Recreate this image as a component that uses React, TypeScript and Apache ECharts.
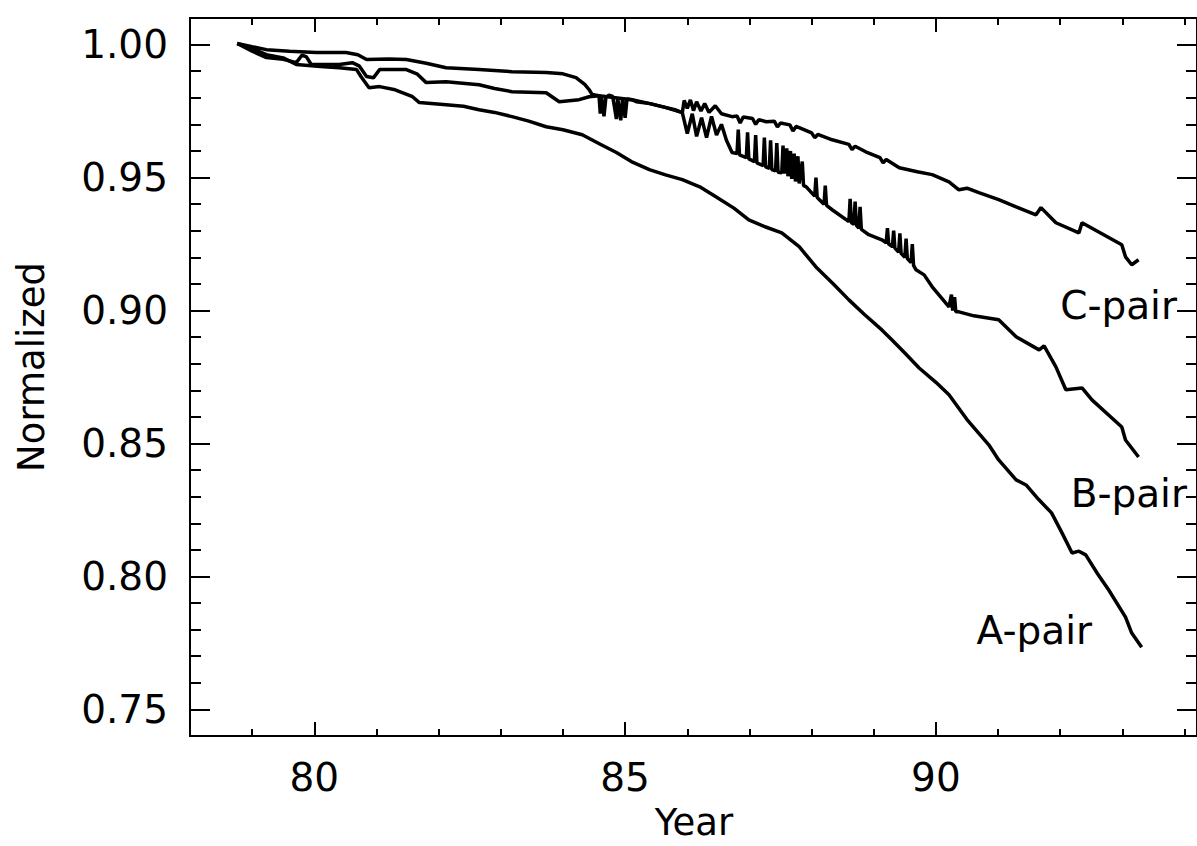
import React, { useEffect, useRef } from "react";
import * as echarts from "echarts";

const xMin = 78;
const xMax = 94.2;
const yMin = 0.74;
const yMax = 1.01;

const xMajorTicks = [80, 85, 90];
const xMinorTicks = [79, 81, 82, 83, 84, 86, 87, 88, 89, 91, 92, 93, 94];
const yMajorTicks = [0.75, 0.8, 0.85, 0.9, 0.95, 1.0];
const yMinorTicks = [
  0.76, 0.77, 0.78, 0.79, 0.81, 0.82, 0.83, 0.84, 0.86, 0.87, 0.88, 0.89,
  0.91, 0.92, 0.93, 0.94, 0.96, 0.97, 0.98, 0.99,
];

const xTitle = "Year";
const yTitle = "Normalized";
const seriesNames = ["A-pair", "B-pair", "C-pair"];

const aPair: [number, number][] = [
  [78.76, 1.0004], [79.0, 0.9985], [79.23, 0.9962], [79.5, 0.995], [79.71, 0.9925],
  [80.1, 0.9918], [80.4, 0.9913], [80.68, 0.9906], [80.75, 0.988], [80.88, 0.9838],
  [81.05, 0.9842], [81.3, 0.983], [81.58, 0.9804], [81.69, 0.9782], [82.12, 0.9774],
  [82.4, 0.9768], [82.65, 0.9755], [82.9, 0.9745], [83.18, 0.9729], [83.45, 0.9712],
  [83.73, 0.9691], [84.0, 0.968], [84.31, 0.9661], [84.6, 0.9625], [84.86, 0.9594],
  [85.1, 0.956], [85.39, 0.953], [85.65, 0.951], [85.92, 0.9492], [86.2, 0.9465],
  [86.46, 0.9428], [86.75, 0.9385], [86.99, 0.9341], [87.25, 0.9315], [87.52, 0.9292],
  [87.8, 0.924], [88.07, 0.9164], [88.35, 0.91], [88.6, 0.904], [88.85, 0.8985],
  [89.13, 0.8927], [89.29, 0.889], [89.5, 0.884], [89.73, 0.8784], [90.0, 0.873],
  [90.21, 0.8683], [90.5, 0.859], [90.85, 0.8495], [91.01, 0.8438], [91.29, 0.8363],
  [91.45, 0.8344], [91.65, 0.829], [91.86, 0.8239], [92.03, 0.8163], [92.19, 0.8088],
  [92.3, 0.8095], [92.41, 0.8081], [92.6, 0.801], [92.78, 0.7949], [93.05, 0.7847],
  [93.15, 0.7787], [93.31, 0.7734],
];

const bPair: [number, number][] = [
  [78.76, 1.0004], [79.0, 0.9975], [79.23, 0.9951], [79.5, 0.9945], [79.71, 0.9932],
  [79.8, 0.996], [79.87, 0.9955], [79.95, 0.9925], [80.4, 0.9925], [80.61, 0.9932],
  [80.72, 0.992], [80.84, 0.988], [80.95, 0.9875], [81.05, 0.9906], [81.48, 0.9906],
  [81.65, 0.989], [81.8, 0.9857], [82.12, 0.986], [82.65, 0.9849], [82.9, 0.9835],
  [83.18, 0.9823], [83.73, 0.9819], [83.94, 0.9785], [84.26, 0.9793], [84.42, 0.9804],
  [84.58, 0.9808], [85.11, 0.9793], [85.4, 0.9778], [85.66, 0.9763], [85.92, 0.9744],
  [86.0, 0.9665], [86.08, 0.974], [86.15, 0.9655], [86.23, 0.9725], [86.31, 0.965],
  [86.39, 0.973], [86.47, 0.966], [86.55, 0.97], [86.63, 0.964], [86.72, 0.9594],
  [86.8, 0.959], [86.82, 0.968], [86.84, 0.9585], [86.95, 0.9575], [86.97, 0.967],
  [86.99, 0.957], [87.08, 0.956], [87.1, 0.966], [87.12, 0.9555], [87.22, 0.9545],
  [87.24, 0.965], [87.26, 0.954], [87.32, 0.9535], [87.34, 0.964], [87.36, 0.953],
  [87.42, 0.9525], [87.44, 0.963], [87.46, 0.952], [87.52, 0.9518], [87.54, 0.962],
  [87.56, 0.9515], [87.6, 0.961], [87.62, 0.9505], [87.66, 0.96], [87.68, 0.9495],
  [87.72, 0.959], [87.74, 0.9485], [87.78, 0.958], [87.8, 0.9478], [87.85, 0.956],
  [87.87, 0.947], [87.91, 0.9466], [88.05, 0.943], [88.07, 0.95], [88.09, 0.9425],
  [88.2, 0.94], [88.22, 0.947], [88.24, 0.9395], [88.33, 0.9379], [88.6, 0.9334],
  [88.62, 0.942], [88.64, 0.933], [88.68, 0.9325], [88.7, 0.941], [88.72, 0.932],
  [88.76, 0.931], [88.78, 0.939], [88.8, 0.9305], [88.92, 0.9285], [89.13, 0.9266],
  [89.2, 0.9255], [89.22, 0.931], [89.24, 0.925], [89.3, 0.924], [89.32, 0.93],
  [89.34, 0.9235], [89.4, 0.922], [89.42, 0.929], [89.44, 0.9215], [89.5, 0.92],
  [89.52, 0.927], [89.54, 0.9195], [89.6, 0.918], [89.62, 0.925], [89.64, 0.917],
  [89.68, 0.9153], [89.81, 0.9134], [89.94, 0.9089], [90.21, 0.9014], [90.25, 0.906],
  [90.27, 0.9], [90.3, 0.905], [90.32, 0.8995], [90.37, 0.8995], [90.61, 0.898],
  [91.01, 0.8965], [91.29, 0.8901], [91.66, 0.8852], [91.74, 0.8867], [91.93, 0.8788],
  [92.09, 0.8702], [92.35, 0.8709], [92.51, 0.8664], [92.99, 0.8562], [93.05, 0.8513],
  [93.26, 0.8449],
];

const cPair: [number, number][] = [
  [78.76, 1.0004], [79.0, 0.9992], [79.23, 0.9981], [79.6, 0.9975], [80.03, 0.997],
  [80.51, 0.997], [80.7, 0.9962], [80.84, 0.9944], [81.2, 0.9946], [81.48, 0.9944],
  [81.8, 0.993], [82.12, 0.9913], [82.65, 0.9906], [83.18, 0.9898], [83.73, 0.9895],
  [84.0, 0.989], [84.21, 0.9876], [84.35, 0.985], [84.42, 0.9831], [84.47, 0.9812],
  [84.58, 0.9808], [84.6, 0.974], [84.62, 0.9805], [84.66, 0.973], [84.69, 0.98],
  [84.74, 0.981], [84.8, 0.9805], [84.86, 0.972], [84.88, 0.98], [84.93, 0.9715],
  [84.96, 0.98], [85.0, 0.9725], [85.03, 0.9795], [85.11, 0.9793], [85.18, 0.9785],
  [85.4, 0.9778], [85.66, 0.9763], [85.8, 0.9755], [85.92, 0.9744], [85.95, 0.979],
  [86.0, 0.976], [86.05, 0.9792], [86.1, 0.9752], [86.15, 0.9785], [86.22, 0.975],
  [86.28, 0.9778], [86.35, 0.9745], [86.45, 0.977], [86.55, 0.974], [86.72, 0.9729],
  [86.8, 0.9732], [86.85, 0.9705], [86.9, 0.9728], [87.05, 0.9722], [87.1, 0.97],
  [87.15, 0.9718], [87.27, 0.971], [87.4, 0.9712], [87.45, 0.969], [87.5, 0.9705],
  [87.65, 0.9698], [87.7, 0.9675], [87.75, 0.9692], [87.8, 0.9688], [88.0, 0.9668],
  [88.05, 0.965], [88.1, 0.9662], [88.33, 0.9642], [88.6, 0.9625], [88.65, 0.9605],
  [88.7, 0.9618], [88.87, 0.9597], [89.1, 0.9575], [89.15, 0.9555], [89.2, 0.9568],
  [89.41, 0.9537], [89.7, 0.9522], [89.94, 0.9511], [90.21, 0.9484], [90.37, 0.9454],
  [90.5, 0.946], [90.69, 0.9443], [91.01, 0.9417], [91.29, 0.939], [91.61, 0.936],
  [91.69, 0.9387], [91.93, 0.933], [92.3, 0.9292], [92.35, 0.933], [92.99, 0.9247],
  [93.05, 0.9202], [93.15, 0.9172], [93.26, 0.9191],
];

const FONT = "DejaVu Sans";
const BLACK = "#000";

function makeX(position: string, ticks: number[], len: number, withLabels: boolean) {
  return {
    type: "value",
    min: xMin,
    max: xMax,
    position,
    axisLine: { show: true, onZero: false, lineStyle: { color: BLACK, width: 2 } },
    axisTick: { show: true, inside: true, length: len, customValues: ticks, lineStyle: { color: BLACK, width: 2 } },
    axisLabel: withLabels
      ? {
          show: true,
          customValues: xMajorTicks,
          formatter: (v: number) => String(Math.round(v)),
          color: BLACK,
          fontFamily: FONT,
          fontSize: 39,
          margin: 22,
        }
      : { show: false },
    splitLine: { show: false },
  };
}

function makeY(position: string, ticks: number[], len: number, withLabels: boolean) {
  return {
    type: "value",
    min: yMin,
    max: yMax,
    position,
    axisLine: { show: true, onZero: false, lineStyle: { color: BLACK, width: 2 } },
    axisTick: { show: true, inside: true, length: len, customValues: ticks, lineStyle: { color: BLACK, width: 2 } },
    axisLabel: withLabels
      ? {
          show: true,
          customValues: yMajorTicks,
          formatter: (v: number) => v.toFixed(2),
          color: BLACK,
          fontFamily: FONT,
          fontSize: 39,
          margin: 22,
        }
      : { show: false },
    splitLine: { show: false },
  };
}

export default function App() {
  const ref = useRef<HTMLDivElement>(null);
  useEffect(() => {
    if (!ref.current) return;
    const chart = echarts.init(ref.current, undefined, { renderer: "svg" });
    const lineStyle = { color: BLACK, width: 3.5 };
    chart.setOption({
      animation: false,
      backgroundColor: "#fff",
      grid: { left: 190, top: 18, width: 1008, height: 718 },
      xAxis: [
        makeX("bottom", xMajorTicks, 14, true),
        makeX("bottom", xMinorTicks, 7, false),
        makeX("top", xMajorTicks, 14, false),
        makeX("top", xMinorTicks, 7, false),
      ],
      yAxis: [
        makeY("left", yMajorTicks, 20, true),
        makeY("left", yMinorTicks, 11, false),
        makeY("right", yMajorTicks, 20, false),
        makeY("right", yMinorTicks, 11, false),
      ],
      series: [
        { name: seriesNames[0], type: "line", data: aPair, showSymbol: false, lineStyle },
        { name: seriesNames[1], type: "line", data: bPair, showSymbol: false, lineStyle },
        { name: seriesNames[2], type: "line", data: cPair, showSymbol: false, lineStyle },
      ],
      graphic: [
        {
          type: "text",
          x: 694,
          y: 822,
          style: { text: xTitle, fill: BLACK, font: `37px "${FONT}"`, align: "center", verticalAlign: "middle" },
        },
        {
          type: "text",
          x: 31,
          y: 367,
          rotation: Math.PI / 2,
          style: { text: yTitle, fill: BLACK, font: `37px "${FONT}"`, align: "center", verticalAlign: "middle" },
        },
        {
          type: "text",
          x: 1177,
          y: 305,
          style: { text: seriesNames[2], fill: BLACK, font: `39px "${FONT}"`, align: "right", verticalAlign: "middle", backgroundColor: "#fff" },
        },
        {
          type: "text",
          x: 1187,
          y: 493,
          style: { text: seriesNames[1], fill: BLACK, font: `39px "${FONT}"`, align: "right", verticalAlign: "middle", backgroundColor: "#fff" },
        },
        {
          type: "text",
          x: 1092,
          y: 630,
          style: { text: seriesNames[0], fill: BLACK, font: `39px "${FONT}"`, align: "right", verticalAlign: "middle" },
        },
      ],
    });
    return () => chart.dispose();
  }, []);
  return (
    <div
      ref={ref}
      style={{ position: "fixed", left: 0, top: 0, width: 1197, height: 846, background: "#fff" }}
    />
  );
}
